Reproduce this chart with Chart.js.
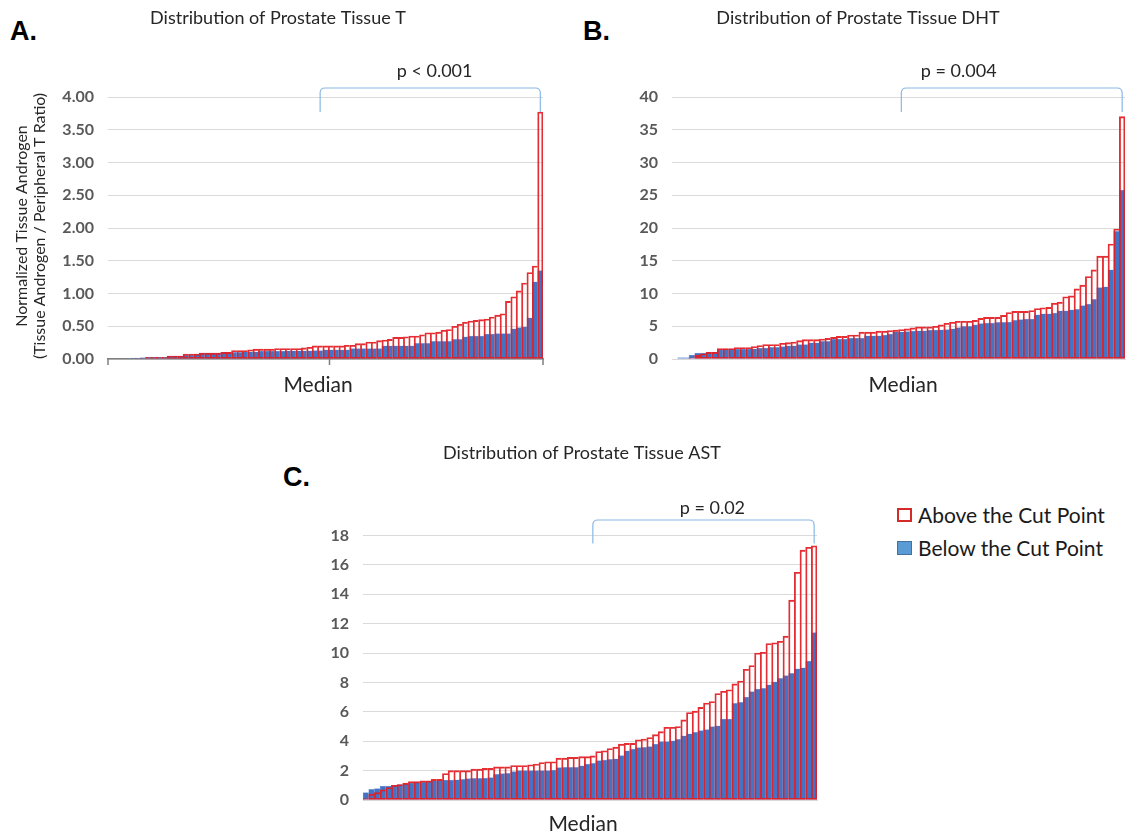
<!DOCTYPE html>
<html>
<head>
<meta charset="utf-8">
<script src="https://cdn.jsdelivr.net/npm/chart.js@4.4.1/dist/chart.umd.min.js"></script>
<style>
  html, body { margin: 0; padding: 0; background: #fff; }
  body { width: 1126px; height: 836px; position: relative; overflow: hidden; font-family: Lato, 'Open Sans', sans-serif; }
  .panel { position: absolute; }
  .tag { position: absolute; font: bold 27px 'Liberation Sans', Arial, sans-serif; line-height: 27px; color: #000; }
  .legend-item { position: absolute; left: 897px; height: 28px; }
  .legend-item .box { position: absolute; left: 0; width: 15px; height: 14px; box-sizing: border-box; }
  .legend-item .txt { position: absolute; left: 21px; top: -6px; font: 21px Lato, sans-serif; line-height: 25px; color: #1a1a1a; white-space: nowrap; }
</style>
</head>
<body>
<div class="tag" style="left:10px; top:18px;">A.</div>
<div class="tag" style="left:583px; top:18px;">B.</div>
<div class="tag" style="left:283px; top:464px;">C.</div>

<div class="panel" style="left:0; top:0; width:560px; height:410px;"><canvas id="chartA"></canvas></div>
<div class="panel" style="left:565px; top:0; width:561px; height:410px;"><canvas id="chartB"></canvas></div>
<div class="panel" style="left:300px; top:430px; width:540px; height:406px;"><canvas id="chartC"></canvas></div>

<div class="legend-item" style="top:508px;"><div class="box" style="border:2px solid #d42a2a; background:#fff;"></div><div class="txt">Above the Cut Point</div></div>
<div class="legend-item" style="top:541px;"><div class="box" style="border:1px solid #41719c; background:#5b9bd5;"></div><div class="txt">Below the Cut Point</div></div>

<script>
// Panel A: tissue T (normalized ratio), each group sorted ascending
const aboveA = [0, 0, 0, 0, 0, 0.01, 0.01, 0.025, 0.025, 0.025, 0.025, 0.045, 0.045, 0.045, 0.075, 0.075, 0.075, 0.09, 0.09, 0.09,
  0.09, 0.1, 0.1, 0.13, 0.13, 0.13, 0.14, 0.15, 0.15, 0.15, 0.15, 0.16, 0.16, 0.16, 0.16, 0.16, 0.17, 0.18,
  0.2, 0.2, 0.2, 0.2, 0.2, 0.2, 0.21, 0.21, 0.235, 0.235, 0.26, 0.26, 0.28, 0.29, 0.3, 0.33, 0.33, 0.34, 0.35, 0.35, 0.37, 0.4,
  0.4, 0.41, 0.44, 0.45, 0.5, 0.53, 0.56, 0.58, 0.59, 0.6, 0.61, 0.64, 0.67, 0.69, 0.88, 0.95, 1.04, 1.16, 1.32, 1.42, 3.77];
const belowA = [0, 0, 0, 0, 0.015, 0.015, 0.02, 0.03, 0.03, 0.03, 0.03, 0.045, 0.045, 0.045, 0.06, 0.06, 0.075, 0.09, 0.09, 0.09,
  0.09, 0.1, 0.1, 0.1, 0.1, 0.11, 0.11, 0.11, 0.12, 0.12, 0.12, 0.12, 0.12, 0.125, 0.125, 0.125, 0.125, 0.125, 0.13, 0.13,
  0.14, 0.14, 0.14, 0.14, 0.14, 0.16, 0.16, 0.16, 0.16, 0.16, 0.16, 0.2, 0.2, 0.2, 0.2, 0.2, 0.2, 0.24, 0.24, 0.24,
  0.27, 0.27, 0.27, 0.27, 0.3, 0.3, 0.34, 0.35, 0.35, 0.35, 0.38, 0.38, 0.39, 0.39, 0.39, 0.46, 0.48, 0.49, 0.63, 1.18, 1.35];

// Panel B: tissue DHT
const aboveB = [0, 0, 0, 0.15, 0.55, 0.8, 1.0, 1.0, 1.6, 1.6, 1.6, 1.75, 1.75, 1.75, 1.9, 2.05, 2.2, 2.2, 2.2, 2.4,
  2.5, 2.6, 2.8, 2.95, 2.95, 2.95, 3.05, 3.15, 3.3, 3.45, 3.45, 3.65, 3.65, 4.1, 4.1, 4.1, 4.25, 4.25, 4.35,
  4.4, 4.5, 4.6, 4.75, 4.9, 4.9, 4.9, 5.0, 5.2, 5.45, 5.6, 5.75, 5.75, 5.75, 5.9, 6.2, 6.35, 6.35, 6.35, 6.65,
  7.1, 7.26, 7.26, 7.26, 7.4, 7.7, 7.82, 7.87, 8.53, 8.68, 9.5, 9.64, 10.7, 11.27, 12.6, 13.6, 15.7, 15.7, 17.56, 19.85, 37.0];
const belowB = [0, 0.2, 0.2, 0.6, 0.9, 0.9, 1.05, 1.05, 1.4, 1.5, 1.5, 1.5, 1.5, 1.5, 1.55, 1.65, 1.65, 1.8, 1.8, 1.9,
  2.0, 2.0, 2.2, 2.2, 2.45, 2.45, 2.7, 2.7, 3.05, 3.05, 3.05, 3.2, 3.2, 3.2, 3.55, 3.55, 3.55, 3.65, 3.8,
  4.15, 4.15, 4.2, 4.25, 4.3, 4.3, 4.4, 4.4, 4.45, 4.5, 4.6, 4.8, 5.0, 5.0, 5.2, 5.4, 5.5, 5.5, 5.6, 5.6,
  5.65, 5.9, 6.0, 6.1, 6.1, 6.75, 6.9, 6.9, 7.0, 7.35, 7.35, 7.5, 7.6, 8.15, 8.4, 9.1, 10.9, 11.0, 13.6, 19.5, 25.8];

// Panel C: tissue AST
const aboveC = [0.1, 0.4, 0.5, 0.7, 0.85, 1.0, 1.05, 1.15, 1.25, 1.25, 1.3, 1.3, 1.4, 1.4, 1.8, 2.0, 2.0, 2.0, 2.0, 2.1,
  2.1, 2.15, 2.15, 2.25, 2.25, 2.25, 2.35, 2.35, 2.35, 2.4, 2.45, 2.55, 2.6, 2.6, 2.85, 2.85, 2.9, 2.9, 2.95, 2.95,
  3.0, 3.3, 3.35, 3.5, 3.6, 3.8, 3.85, 3.85, 4.1, 4.15, 4.25, 4.45, 4.65, 4.95, 4.95, 5.0, 5.45, 5.95, 6.05, 6.3,
  6.6, 6.7, 7.25, 7.4, 7.5, 7.9, 8.1, 8.9, 9.15, 10.0, 10.05, 10.65, 10.7, 10.8, 11.15, 13.6, 15.5, 17.0, 17.2, 17.3];
const belowC = [0.5, 0.72, 0.77, 0.95, 0.95, 1.0, 1.05, 1.1, 1.15, 1.2, 1.22, 1.25, 1.3, 1.33, 1.35, 1.35, 1.38, 1.4, 1.45, 1.47,
  1.47, 1.5, 1.52, 1.75, 1.8, 1.82, 1.93, 2.0, 2.0, 2.0, 2.0, 2.0, 2.0, 2.04, 2.2, 2.22, 2.22, 2.22, 2.32, 2.45,
  2.5, 2.68, 2.72, 2.77, 2.81, 3.02, 3.34, 3.47, 3.56, 3.59, 3.63, 3.81, 3.97, 3.97, 4.02, 4.13, 4.36, 4.5, 4.6, 4.72,
  4.8, 5.0, 5.04, 5.5, 5.5, 6.58, 6.65, 7.0, 7.38, 7.55, 7.6, 7.83, 8.05, 8.28, 8.47, 8.62, 8.92, 9.0, 9.45, 11.4];

const titles = ['Distribution of Prostate Tissue T', 'Distribution of Prostate Tissue DHT', 'Distribution of Prostate Tissue AST'];
const pValues = ['p < 0.001', 'p = 0.004', 'p = 0.02'];
const seriesNames = ['Above the Cut Point', 'Below the Cut Point'];
const yTitleA = ['Normalized Tissue Androgen', '(Tissue Androgen / Peripheral T Ratio)'];

const RED = 'rgba(226,28,34,0.92)';
const BLUE = '#4472c4';
const GRID = 'rgba(205,205,205,0.75)';

Chart.defaults.font.family = 'Lato';

// draws panel title, p-value bracket, "Median" label and (for A) the rotated axis title
const panelDecor = {
    id: 'panelDecor',
    afterDraw(chart, args, o) {
        const { ctx, chartArea, scales } = chart;
        const xs = scales.x;
        ctx.save();
        ctx.fillStyle = '#262626';
        ctx.textAlign = 'center';
        ctx.textBaseline = 'middle';

        ctx.font = '18px Lato';
        ctx.fillText(o.title, o.titleX, o.titleY);

        const x0 = xs.getPixelForValue(o.from);
        const x1 = xs.getPixelForValue(xs.max);
        const t = chartArea.top + o.bTop, b = chartArea.top + o.bBottom, r = 5;
        ctx.strokeStyle = '#8ab8e4';
        ctx.lineWidth = 1.2;
        ctx.beginPath();
        ctx.moveTo(x0, b);
        ctx.lineTo(x0, t + r);
        ctx.quadraticCurveTo(x0, t, x0 + r, t);
        ctx.lineTo(x1 - r, t);
        ctx.quadraticCurveTo(x1, t, x1, t + r);
        ctx.lineTo(x1, b);
        ctx.stroke();

        ctx.fillText(o.p, x0 + o.pFrac * (x1 - x0), chartArea.top + o.pDy);

        ctx.font = '21px Lato';
        ctx.fillText('Median', o.medianX, chartArea.bottom + o.medianDy);

        if (o.yTitle) {
            ctx.font = '16px Lato';
            o.yTitle.forEach((line, i) => {
                ctx.save();
                ctx.translate(22 + i * 18, 226);
                ctx.rotate(-Math.PI / 2);
                ctx.fillText(line, 0, 0);
                ctx.restore();
            });
        }
        if (o.axisTicks) {
            ctx.strokeStyle = '#7f7f7f';
            ctx.lineWidth = 1.5;
            [chartArea.left, (chartArea.left + chartArea.right) / 2 + 4, chartArea.right].forEach(px => {
                ctx.beginPath();
                ctx.moveTo(px, chartArea.bottom);
                ctx.lineTo(px, chartArea.bottom + 6);
                ctx.stroke();
            });
        }
        ctx.restore();
    }
};

// sorted ascending, so each bar's right side is covered by its neighbour's left edge
function outlineWidth(c) {
    const last = c.dataIndex === c.dataset.data.length - 1;
    return { top: 1.2, left: 1.2, bottom: 1.2, right: last ? 1.2 : 0 };
}

function renderPanel(id, above, below, cfg) {
    const ctx = document.getElementById(id);
    const labels = above.map((_, i) => String(i + 1));
    return new Chart(ctx, {
        type: 'bar',
        data: {
            labels,
            datasets: [{
                label: seriesNames[0],
                data: above,
                backgroundColor: 'rgba(255,255,255,0)',
                borderColor: RED,
                borderWidth: outlineWidth,
                borderSkipped: false,
                grouped: false,
                categoryPercentage: 1,
                barPercentage: 1
            }, {
                label: seriesNames[1],
                data: below,
                backgroundColor: BLUE,
                borderColor: 'rgba(150,180,230,0.8)',
                borderWidth: 0.5,
                borderSkipped: false,
                grouped: false,
                categoryPercentage: 1,
                barPercentage: 1
            }]
        },
        options: {
            responsive: true,
            maintainAspectRatio: false,
            animation: false,
            layout: { padding: cfg.pad },
            plugins: {
                legend: { display: false },
                tooltip: { enabled: false },
                panelDecor: cfg.decor
            },
            scales: {
                x: {
                    z: 1,
                    grid: { display: false, drawTicks: false },
                    ticks: { display: false },
                    border: { color: cfg.axisColor, width: cfg.axisWidth },
                    afterFit(s) { s.height = 0; }
                },
                y: {
                    z: 1,
                    min: 0,
                    max: cfg.max,
                    ticks: {
                        stepSize: cfg.step,
                        padding: 14,
                        color: '#595959',
                        font: { size: 16, weight: 'bold' },
                        callback: cfg.fmt
                    },
                    grid: { color: GRID, drawTicks: false },
                    border: { display: false },
                    afterFit(s) { s.width = cfg.yWidth; }
                }
            }
        },
        plugins: [panelDecor]
    });
}

renderPanel('chartA', aboveA, belowA, {
    pad: { top: 97, right: 17, bottom: 51, left: 0 },
    yWidth: 108, max: 4, step: 0.5, fmt: v => v.toFixed(2),
    axisColor: '#7f7f7f', axisWidth: 1.5,
    decor: { title: titles[0], titleX: 278, titleY: 18, from: 39, bTop: -9, bBottom: 15,
             p: pValues[0], pFrac: 0.52, pDy: -26, medianX: 318, medianDy: 26, yTitle: yTitleA, axisTicks: true }
});

renderPanel('chartB', aboveB, belowB, {
    pad: { top: 97, right: 1, bottom: 51, left: 0 },
    yWidth: 107, max: 40, step: 5, fmt: v => v,
    axisColor: '#d9d9d9', axisWidth: 1,
    decor: { title: titles[1], titleX: 293, titleY: 18, from: 40, bTop: -9, bBottom: 15,
             p: pValues[1], pFrac: 0.26, pDy: -26, medianX: 338, medianDy: 26 }
});

renderPanel('chartC', aboveC, belowC, {
    pad: { top: 105.5, right: 23, bottom: 36, left: 0 },
    yWidth: 63, max: 18, step: 2, fmt: v => v,
    axisColor: '#d9d9d9', axisWidth: 1,
    decor: { title: titles[2], titleX: 282, titleY: 23, from: 40, bTop: -15.5, bBottom: 8,
             p: pValues[2], pFrac: 0.54, pDy: -27.5, medianX: 283, medianDy: 24 }
});
</script>
</body>
</html>
